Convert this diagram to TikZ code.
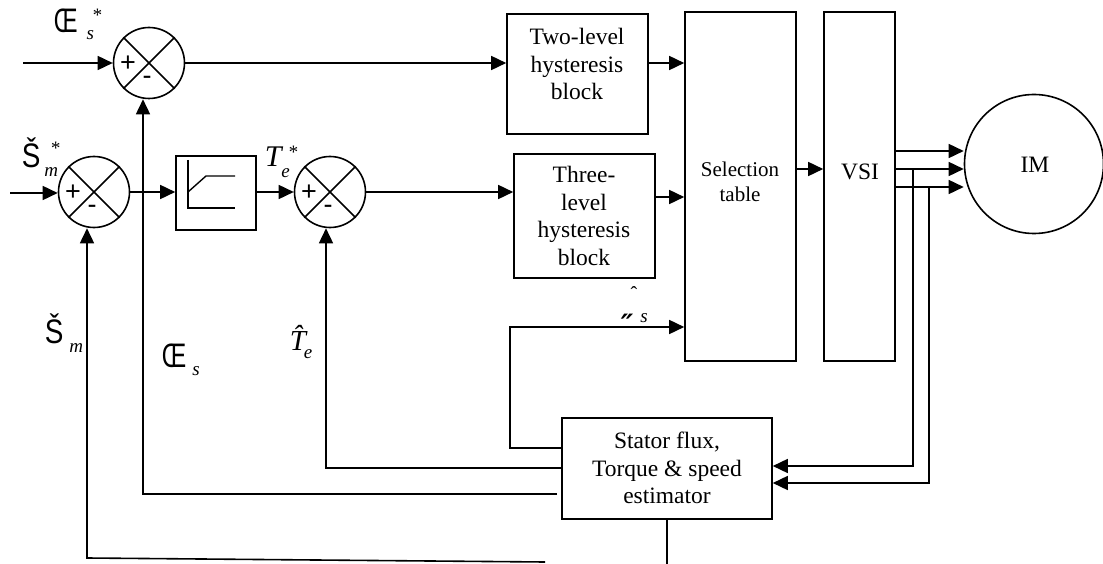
\documentclass[tikz,border=0pt]{standalone}
\usepackage{fontspec}
\setmainfont{Liberation Serif}
\newfontfamily\symf{Liberation Sans}
\newfontfamily\dvs{DejaVu Sans}
\usetikzlibrary{arrows.meta,calc}
\newcommand\bigsym[1]{{\symf\fontsize{34}{34}\selectfont #1}}
\newcommand\sbi[1]{{\fontsize{19}{19}\selectfont\itshape #1}}
\begin{document}
\begin{tikzpicture}[x=1pt,y=-1pt,line width=1.6pt,
  arr/.style={-{Triangle[length=15pt,width=14pt]}},
  blk/.style={draw,rectangle,inner sep=0pt},
  sumj/.style={draw,circle,minimum size=71pt,inner sep=0pt},
  txt/.style={font=\fontsize{23.5}{27.5}\selectfont,align=center,inner sep=0pt},
  lab/.style={anchor=base west,inner sep=0pt},
  pm/.style={font=\symf\fontsize{27}{27}\selectfont,inner sep=0pt,anchor=base}]
\useasboundingbox (0,0) rectangle (1103,564);

% summing junctions
\node[sumj] (J1) at (149,63) {};
\node[sumj] (J2) at (94,192) {};
\node[sumj] (J3) at (330,192) {};
\foreach \j in {J1,J2,J3}{
  \draw (\j.north west) -- (\j.south east) (\j.north east) -- (\j.south west);
  \node[pm] (\j p) at ($(\j)+(-21,9)$) {+};
  \node[pm] (\j m) at ($(\j)+(-2,22)$) {-};
}

% blocks
\node[blk,minimum width=80pt,minimum height=74pt] (ramp) at (216,193) {};
\draw[line width=1.4pt] (188,160) -- (188,208) -- (235,208);
\draw[line width=1.4pt] (188,192) -- (206,176) -- (235,176);
\node[blk,minimum width=141pt,minimum height=120pt] (two) at (577.5,74) {};
\node[blk,minimum width=141pt,minimum height=124pt] (three) at (584.5,216) {};
\node[blk,minimum width=111pt,minimum height=349pt] (sel) at (740.5,186.5) {};
\node[blk,minimum width=71pt,minimum height=349pt] (vsi) at (859.5,186.5) {};
\node[blk,minimum width=210pt,minimum height=101pt] (est) at (667,468.5) {};
\node[draw,circle,minimum size=139pt,inner sep=0pt] (IM) at (1034,164) {};

% block texts
\node[txt] (twoT) at (577,64) {Two-level\\hysteresis\\block};
\node[txt] (threeT) at (584,216) {Three-\\level\\hysteresis\\block};
\node[txt,font=\fontsize{21}{25}\selectfont] (selT) at (740,182) {Selection\\table};
\node[txt,anchor=base] (vsiT) at (860,180) {VSI};
\node[txt,anchor=base] (imT) at (1035,173) {IM};
\node[txt] (estT) at (667,468) {Stator flux,\\Torque \& speed\\estimator};

% coordinates
\coordinate (in1) at (23,63);
\coordinate (in2) at (10,193);
\coordinate (ya) at (0,151);
\coordinate (yb) at (0,169);
\coordinate (yc) at (0,187);
\coordinate (y3) at (0,197);
\coordinate (tapB) at (913,169);
\coordinate (tapC) at (929,187);
\coordinate (e1) at (0,466);
\coordinate (e2) at (0,483);
\coordinate (th1) at (510,448);
\coordinate (th2) at (510,327);
\coordinate (fT) at (326,468);
\coordinate (fP) at (143,494);
\coordinate (fW) at (87,558);
\coordinate (wEnd) at (545,562);
\coordinate (ybot) at (0,566);

% forward path
\draw[arr] (in1) -- (J1.west);
\draw[arr] (in2) -- (J2.west |- in2);
\draw[arr] (J1.east) -- (J1.east -| two.west);
\draw[arr] (J2.east) -- (J2.east -| ramp.west);
\draw[arr] (ramp.east |- J3.west) -- (J3.west);
\draw[arr] (J3.east) -- (J3.east -| three.west);
\draw[arr] (two.east |- J1.east) -- (sel.west |- J1.east);
\draw[arr] (three.east |- y3) -- (sel.west |- y3);
\draw[arr] (sel.east |- yb) -- (vsi.west |- yb);
\draw[arr] (vsi.east |- ya) -- (IM.west |- ya);
\draw[arr] (vsi.east |- yb) -- (IM.west |- yb);
\draw[arr] (vsi.east |- yc) -- (IM.west |- yc);

% measurement to estimator
\draw[arr] (tapB) -- (tapB |- e1) -- (est.east |- e1);
\draw[arr] (tapC) -- (tapC |- e2) -- (est.east |- e2);

% feedbacks
\draw[arr] (est.west |- th1) -- (th1) -- (th2) -- (sel.west |- th2);
\draw[arr] (est.west |- fT) -- (fT) -- (fT |- J3.south);
\draw[arr] ($(est.west |- fP)+(-4,0)$) -- (fP) -- (fP |- J1.south);
\draw[arr] (wEnd) -- (fW) -- (fW |- J2.south);
\draw (est.south) -- (est.south |- ybot);

% labels
\node[lab] (lPsiRef) at (53,33) {\scalebox{0.7}[1]{\bigsym{Œ}}\hspace{9pt}\raisebox{-7pt}{\sbi{s}}\hspace{-2pt}\raisebox{11pt}{\sbi{*}}};
\node[lab] (lWRef) at (21,168) {\scalebox{0.82}[1]{\bigsym{Š}}\hspace{4pt}\raisebox{-9pt}{\sbi{m}}\hspace{-8pt}\raisebox{13pt}{\sbi{*}}};
\node[lab] (lTRef) at (264,167) {{\fontsize{30}{30}\selectfont\itshape T}\hspace{0pt}\raisebox{-11pt}{\sbi{e}}\hspace{-2pt}\raisebox{8pt}{\sbi{*}}};
\node[lab] (lW) at (44,343) {\scalebox{0.82}[1]{\bigsym{Š}}\hspace{6pt}\raisebox{-9pt}{\sbi{m}}};
\node[lab] (lPsi) at (161,367) {\scalebox{0.72}[1]{\bigsym{Œ}}\hspace{6pt}\raisebox{-8pt}{\sbi{s}}};
\node[lab] (lT) at (289,350) {{\fontsize{29}{29}\selectfont\itshape\^{T}}\hspace{-2pt}\raisebox{-8pt}{\sbi{e}}};
\node[anchor=base,inner sep=0pt] (lHat) at (634,300) {\fontsize{20}{20}\selectfont ˆ};
\node[lab] (lTheta) at (620,322) {\raisebox{-12pt}{\dvs\bfseries\fontsize{28}{28}\selectfont\itshape ″}\hspace{7pt}\sbi{s}};
\end{tikzpicture}
\end{document}
